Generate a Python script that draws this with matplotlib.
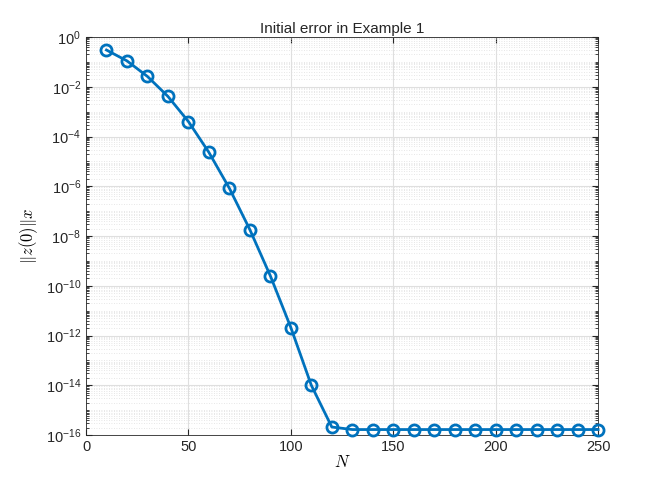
import matplotlib
matplotlib.use("Agg")
import matplotlib.pyplot as plt
import numpy as np
from matplotlib.ticker import LogLocator, NullFormatter

# data
n_values = [10, 20, 30, 40, 50, 60, 70, 80, 90, 100, 110, 120, 130, 140, 150,
            160, 170, 180, 190, 200, 210, 220, 230, 240, 250]
init_error = [0.30, 0.11, 0.026, 4.1e-3, 4.0e-4, 2.3e-5, 8.3e-7, 1.8e-8,
              2.5e-10, 2.1e-12, 1.0e-14, 2.1e-16, 1.66e-16, 1.66e-16, 1.66e-16,
              1.66e-16, 1.66e-16, 1.66e-16, 1.66e-16, 1.66e-16, 1.66e-16,
              1.66e-16, 1.66e-16, 1.66e-16, 1.66e-16]
x_ticks = [0, 50, 100, 150, 200, 250]
y_ticks = [10.0 ** k for k in range(-16, 1, 2)]

plt.rcParams["font.family"] = ["Liberation Sans", "DejaVu Sans"]
plt.rcParams["mathtext.fontset"] = "cm"

fig = plt.figure(figsize=(6.54, 4.91), dpi=100)
ax = fig.add_axes([0.1315, 0.114, 0.783, 0.8106])

ax.semilogy(n_values, init_error, "-o", color="#0072BD", lw=2, ms=8,
            mfc="none", mew=2, clip_on=False, zorder=3)

ax.set_xlim(0, 250)
ax.set_ylim(1e-16, 1)
ax.set_xticks(x_ticks)
ax.set_yticks(y_ticks)
ax.yaxis.set_minor_locator(LogLocator(base=10, subs=np.arange(1, 10), numticks=40))
ax.yaxis.set_minor_formatter(NullFormatter())

ax.grid(True, which="major", color="#dfdfdf", lw=0.8)
ax.grid(True, which="minor", axis="y", color="#dfdfdf", lw=0.6, ls=(0, (1, 2)))
ax.set_axisbelow(True)

ax.tick_params(which="both", direction="in", top=True, right=True,
               labelsize=10.5, color="#262626", labelcolor="#262626")
ax.tick_params(which="major", length=4)
ax.tick_params(which="minor", length=2.5)
ax.tick_params(axis="x", which="minor", bottom=False, top=False)
for sp in ax.spines.values():
    sp.set_color("#262626")
    sp.set_linewidth(0.6)

ax.set_title("Initial error in Example 1", fontsize=11, color="#262626", pad=3)
ax.set_xlabel("$N$", fontsize=12, labelpad=0)
ax.set_ylabel(r"$\|z(0)\|x$", fontsize=12, labelpad=4)

fig.savefig("out.png", dpi=100)
